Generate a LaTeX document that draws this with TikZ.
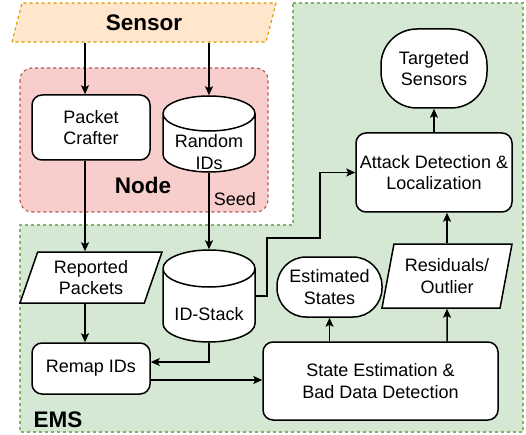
\documentclass[tikz,border=0pt]{standalone}
\usepackage{fontspec}
\setmainfont{Liberation Sans}
\usetikzlibrary{shapes.geometric,arrows.meta,calc}
\definecolor{emsfill}{HTML}{D5E8D4}
\definecolor{emsline}{HTML}{82B366}
\definecolor{nodefill}{HTML}{F8CECC}
\definecolor{nodeline}{HTML}{B85450}
\definecolor{sensfill}{HTML}{FFE6CC}
\definecolor{sensline}{HTML}{D79B00}
% drum outline: centre, half width, half height, cap radius
\newcommand{\drum}[4]{%
  \draw[fill=white]($(#1)+(-#2,-#3+#4)$)--($(#1)+(-#2,#3-#4)$)
    arc[start angle=180, end angle=0, x radius=#2, y radius=#4]
    --($(#1)+(#2,-#3+#4)$)
    arc[start angle=0, end angle=-180, x radius=#2, y radius=#4]--cycle
    ($(#1)+(-#2,-#3+#4)$) arc[start angle=180, end angle=0, x radius=#2, y radius=#4];}
\tikzset{
  txt/.style={font=\fontsize{18}{21.5}\selectfont, align=center, inner sep=0pt},
  bold/.style={font=\fontsize{22.5}{26}\selectfont\bfseries, inner sep=0pt},
  box/.style={txt, draw, fill=white, rounded corners=10pt},
  data/.style={txt, draw, fill=white, trapezium, trapezium stretches body},
  store/.style={txt, rectangle},
  term/.style={txt, draw, fill=white, rectangle},
  region/.style={dashed, dash pattern=on 3pt off 3pt, line width=1.1pt},
}
\begin{document}
\begin{tikzpicture}[x=1pt, y=-1pt, >={Stealth[length=9pt,width=8pt,inset=2pt]}, line width=1.5pt]
\useasboundingbox (0,0) rectangle (526,435);
% regions
\draw[region, draw=emsline, fill=emsfill](293,3)--(523,3)--(523,432)--(20,432)--(20,225)--(293,225)--cycle;
\draw[region, draw=nodeline, fill=nodefill, rounded corners=12pt](20,68) rectangle (268,212);
\node[bold] (nodelabel) at (143,185) {Node};
\node[bold] (emslabel) at (58,420) {EMS};
% blocks
\node[data, bold, region, draw=sensline, fill=sensfill, trapezium left angle=58, trapezium right angle=122,
  minimum width=264, minimum height=39] (sensor) at (144,22.5) {Sensor};
\node[box, minimum width=118, minimum height=65] (crafter) at (91,127.5) {Packet\\Crafter};
\coordinate (randompos) at (209,134);
\drum{randompos}{46}{38}{17.5}
\node[store, minimum width=92, minimum height=76, label={[txt, yshift=-18pt]center:{Random\\IDs}}]
  (random) at (randompos) {};
\node[data, trapezium left angle=63, trapezium right angle=117, minimum width=142, minimum height=51]
  (reported) at (91,277.5) {Reported\\Packets};
\coordinate (stackpos) at (209,296);
\drum{stackpos}{46}{46}{18.5}
\node[store, minimum width=92, minimum height=92, label={[txt, yshift=-18pt]center:ID-Stack}]
  (idstack) at (stackpos) {};
\node[box, minimum width=118, minimum height=51] (remap) at (91,368.5) {Remap IDs};
\node[box, minimum width=235, minimum height=78] (state) at (380.5,381) {State Estimation \&\\Bad Data Detection};
\node[term, rounded corners=29pt, minimum width=105, minimum height=60] (estimated) at (329.5,287) {Estimated\\States};
\node[data, trapezium left angle=71, trapezium right angle=109, minimum width=130, minimum height=64]
  (residuals) at (447,276) {Residuals/\\Outlier};
\node[box, minimum width=156, minimum height=79] (attack) at (434,172.5) {Attack Detection \&\\Localization};
\node[term, rounded corners=36pt, minimum width=106, minimum height=79] (targeted) at (434,68.5) {Targeted\\Sensors};
% connectors
\coordinate (lcol) at (85,0);
\coordinate (bend) at (320,238);
\draw[->](sensor.south -| lcol)--(crafter.north -| lcol);
\draw[->](sensor.south -| random)--(random.north);
\draw[->](crafter.south -| lcol)--(reported.north -| lcol);
\draw[->](random.south)--node[txt, anchor=west, pos=0.35, xshift=4pt]{Seed}(idstack.north);
\draw[->](reported.south -| lcol)--(remap.north -| lcol);
\draw[->](idstack.south)|-([yshift=6.5pt]remap.east);
\draw[->]([yshift=-11.5pt]remap.east)--([yshift=-11.5pt]remap.east -| state.west);
\draw[->](idstack.east)-|(267,238)-|(bend)|-(attack.west);
\draw[->](state.north -| estimated)--(estimated.south);
\draw[->](state.north -| residuals)--(residuals.south);
\draw[->](residuals.north)--(residuals.north |- attack.south);
\draw[->](attack.north)--(targeted.south);
\end{tikzpicture}
\end{document}
